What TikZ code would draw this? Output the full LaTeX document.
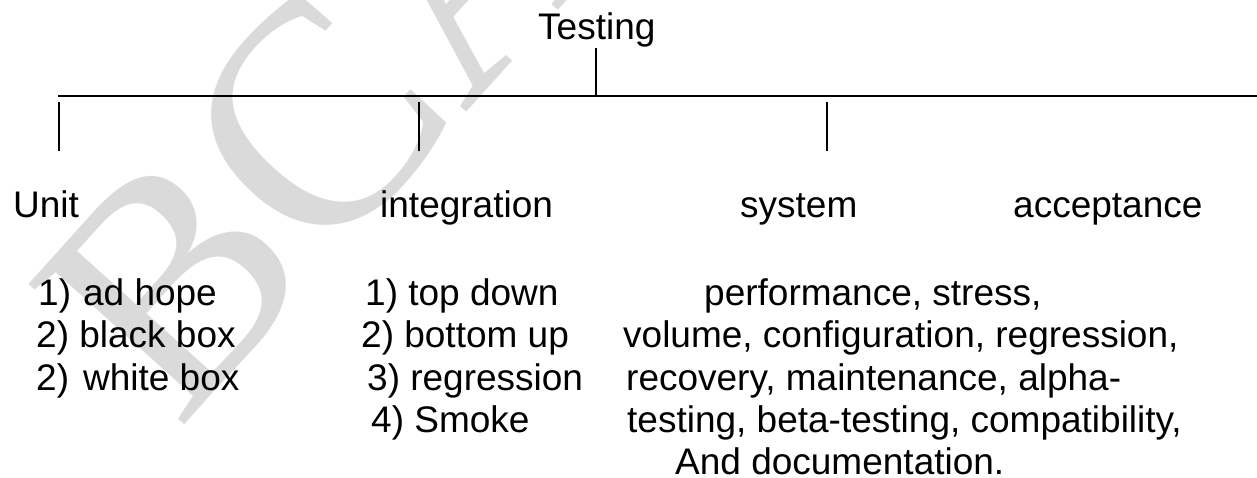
\documentclass[tikz,border=0pt]{standalone}
\usepackage{fontspec}
\setmainfont{Liberation Sans}
\newfontfamily\wmserif{Liberation Serif}
\definecolor{wmgray}{RGB}{218,218,218}
\begin{document}
\begin{tikzpicture}[x=1pt,y=-1pt,
  lbl/.style={anchor=base west, inner sep=0pt, font=\fontsize{37}{42.5}\selectfont},
  branch/.style={line width=1.6pt, black},
  watermark/.style={rotate=48, text=wmgray, inner sep=0pt, font=\wmserif\fontsize{320}{320}\selectfont}]
\useasboundingbox (0,0) rectangle (1257,478);
\fill[white] (0,0) rectangle (1257,478);
\node[watermark] (wm) at (321,117) {BCA};

% headings
\node[lbl] (testing) at (538,40) {Testing};
\node[lbl] (unit) at (13,218) {Unit};
\node[lbl] (integ) at (380,218) {integration};
\node[lbl] (system) at (740,218) {system};
\node[lbl] (accept) at (1013,218) {acceptance};

% unit list
\node[lbl] (u1) at (38,305) {1)\hspace{12pt}ad hope};
\node[lbl] (u2) at (36,347.5) {2) black box};
\node[lbl] (u3) at (36,390) {2)\hspace{14pt}white box};

% integration list
\node[lbl] (i1) at (365,305) {1) top down};
\node[lbl] (i2) at (361,347.5) {2) bottom up};
\node[lbl] (i3) at (367,390) {3) regression};
\node[lbl] (i4) at (371,432.5) {4) Smoke};

% system list
\node[lbl] (s1) at (704,305) {performance, stress,};
\node[lbl] (s2) at (623,347.5) {volume, configuration, regression,};
\node[lbl] (s3) at (626,390) {recovery, maintenance, alpha-};
\node[lbl] (s4) at (627,432.5) {testing, beta-testing, compatibility,};
\node[lbl] (s5) at (675,474) {And documentation.};

% tree lines
\coordinate (tstem) at (596,48);
\coordinate (bar) at (596,96);
\coordinate (barL) at (58,96);
\coordinate (barR) at (1257,96);
\coordinate (d1t) at (59,102);
\coordinate (d1b) at (59,151);
\coordinate (d2t) at (419,102);
\coordinate (d2b) at (419,151);
\coordinate (d3t) at (827,102);
\coordinate (d3b) at (827,151);
\draw[branch] (tstem) -- (bar);
\draw[branch] (barL) -- (barR);
\draw[branch] (d1t) -- (d1b);
\draw[branch] (d2t) -- (d2b);
\draw[branch] (d3t) -- (d3b);
\end{tikzpicture}
\end{document}
